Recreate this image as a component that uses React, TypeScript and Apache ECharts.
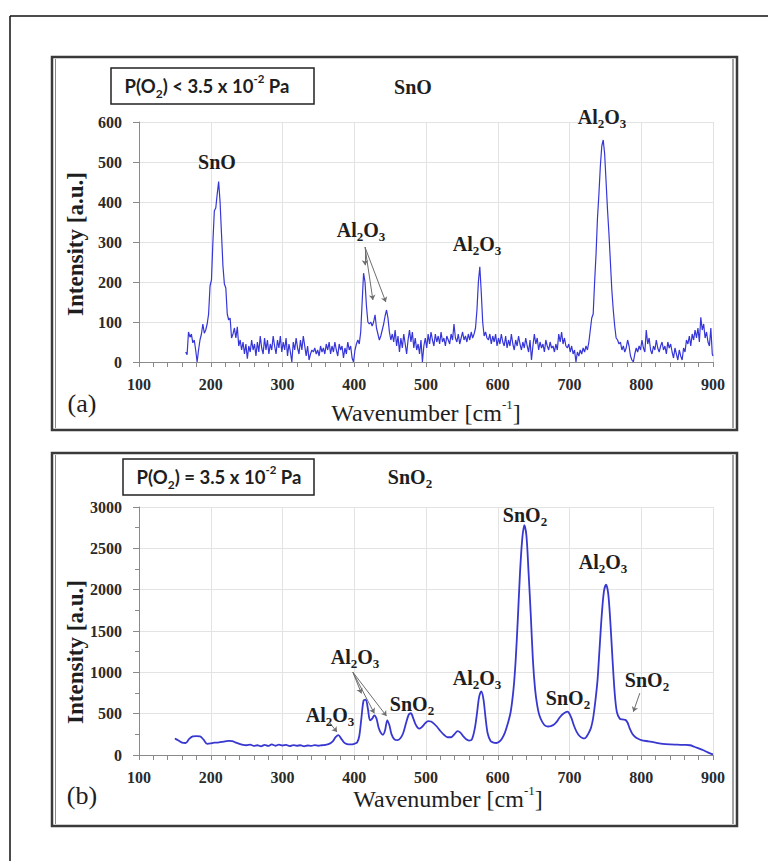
import React, { useEffect, useRef } from "react";
import * as echarts from "echarts";

// ---------- data ----------
const xTickValues = [100, 200, 300, 400, 500, 600, 700, 800, 900];

// Panel (a): SnO, P(O2) < 3.5e-2 Pa  [wavenumber cm-1, intensity a.u.]
const snoSpectrum: [number, number][] = [
  [165, 25], [167, 18], [169, 75], [171, 62], [173, 70], [175, 48], [177, 55], [179, 30], [181, 0], [183, 30],
  [185, 55], [187, 70], [189, 95], [191, 72], [193, 80], [195, 95], [197, 120], [199, 190], [201, 205], [203, 300],
  [205, 378], [207, 385], [209, 420], [211, 451], [213, 400], [215, 320], [217, 240], [219, 195], [221, 185], [223, 120],
  [225, 105], [227, 110], [229, 60], [231, 70], [233, 85], [235, 60], [237, 88], [239, 40], [241, 55], [243, 30],
  [245, 50], [247, 20], [249, 45], [251, 8], [253, 40], [255, 25], [257, 55], [259, 30], [261, 45], [263, 15],
  [265, 50], [267, 25], [269, 65], [271, 35], [273, 20], [275, 60], [277, 30], [279, 55], [281, 20], [283, 45],
  [285, 30], [287, 65], [289, 40], [291, 20], [293, 55], [295, 35], [297, 65], [299, 25], [301, 50], [303, 30],
  [305, 60], [307, 15], [309, 45], [311, 25], [313, 0], [315, 50], [317, 30], [319, 60], [321, 35], [323, 20],
  [325, 55], [327, 30], [329, 65], [331, 40], [333, 15], [335, 40], [337, 5], [339, 20], [341, 30], [343, 25],
  [345, 35], [347, 20], [349, 30], [351, 15], [353, 40], [355, 25], [357, 35], [359, 20], [361, 45], [363, 30],
  [365, 50], [367, 20], [369, 40], [371, 25], [373, 50], [375, 30], [377, 15], [379, 45], [381, 30], [383, 40],
  [385, 10], [387, 35], [389, 20], [391, 50], [393, 30], [395, 40], [397, 10], [399, 0], [401, 30], [403, 45],
  [405, 55], [407, 45], [409, 75], [411, 150], [413, 222], [415, 200], [417, 140], [419, 100], [421, 95], [423, 100],
  [425, 90], [427, 100], [429, 118], [431, 85], [433, 70], [435, 55], [437, 65], [439, 80], [441, 95], [443, 115],
  [445, 130], [447, 110], [449, 75], [451, 55], [453, 70], [455, 50], [457, 80], [459, 40], [461, 65], [463, 25],
  [465, 60], [467, 35], [469, 70], [471, 45], [473, 20], [475, 55], [477, 80], [479, 50], [481, 75], [483, 35],
  [485, 60], [487, 30], [489, 45], [491, 20], [493, 55], [495, 0], [497, 40], [499, 60], [501, 35], [503, 70],
  [505, 45], [507, 75], [509, 55], [511, 40], [513, 70], [515, 50], [517, 65], [519, 45], [521, 75], [523, 50],
  [525, 60], [527, 40], [529, 65], [531, 55], [533, 45], [535, 70], [537, 55], [539, 95], [541, 60], [543, 50],
  [545, 70], [547, 45], [549, 60], [551, 75], [553, 55], [555, 65], [557, 50], [559, 70], [561, 55], [563, 75],
  [565, 60], [567, 70], [569, 85], [571, 130], [573, 200], [575, 238], [577, 175], [579, 100], [581, 65], [583, 75],
  [585, 60], [587, 55], [589, 70], [591, 45], [593, 65], [595, 50], [597, 70], [599, 40], [601, 60], [603, 45],
  [605, 70], [607, 50], [609, 40], [611, 65], [613, 35], [615, 55], [617, 40], [619, 70], [621, 45], [623, 30],
  [625, 55], [627, 40], [629, 65], [631, 45], [633, 30], [635, 50], [637, 35], [639, 60], [641, 40], [643, 25],
  [645, 55], [647, 5], [649, 40], [651, 70], [653, 45], [655, 60], [657, 30], [659, 50], [661, 35], [663, 45],
  [665, 25], [667, 55], [669, 40], [671, 30], [673, 50], [675, 35], [677, 40], [679, 25], [681, 45], [683, 30],
  [685, 70], [687, 50], [689, 75], [691, 45], [693, 60], [695, 40], [697, 35], [699, 45], [701, 25], [703, 40],
  [705, 20], [707, 30], [709, 0], [711, 25], [713, 15], [715, 30], [717, 20], [719, 35], [721, 25], [723, 40],
  [725, 30], [727, 50], [729, 80], [731, 110], [733, 120], [735, 200], [737, 270], [739, 360], [741, 420], [743, 490],
  [745, 540], [747, 555], [749, 520], [751, 450], [753, 380], [755, 320], [757, 250], [759, 180], [761, 130], [763, 90],
  [765, 60], [767, 55], [769, 45], [771, 50], [773, 30], [775, 40], [777, 25], [779, 35], [781, 55], [783, 40],
  [785, 15], [787, 5], [789, 0], [791, 20], [793, 35], [795, 25], [797, 40], [799, 30], [801, 55], [803, 35],
  [805, 25], [807, 80], [809, 45], [811, 60], [813, 30], [815, 20], [817, 40], [819, 30], [821, 55], [823, 35],
  [825, 25], [827, 40], [829, 50], [831, 30], [833, 40], [835, 20], [837, 50], [839, 35], [841, 45], [843, 25],
  [845, 10], [847, 35], [849, 20], [851, 5], [853, 30], [855, 15], [857, 5], [859, 35], [861, 25], [863, 55],
  [865, 45], [867, 65], [869, 40], [871, 70], [873, 55], [875, 80], [877, 60], [879, 85], [881, 50], [883, 112],
  [885, 80], [887, 95], [889, 60], [891, 75], [893, 50], [895, 40], [897, 85], [899, 20], [900, 15],
];

// Panel (b): SnO2, P(O2) = 3.5e-2 Pa
const sno2Spectrum: [number, number][] = [
  [150, 200], [155, 175], [160, 150], [165, 145], [170, 195], [175, 225], [180, 228], [185, 225], [190, 185], [195, 135],
  [200, 140], [205, 150], [210, 150], [215, 158], [220, 165], [225, 172], [230, 168], [235, 150], [240, 135], [245, 122],
  [250, 118], [255, 125], [260, 110], [265, 118], [270, 105], [275, 122], [280, 110], [285, 128], [290, 112], [295, 125],
  [300, 115], [305, 122], [310, 108], [315, 120], [320, 112], [325, 118], [330, 105], [335, 115], [340, 110], [345, 120],
  [350, 112], [355, 118], [360, 122], [365, 135], [370, 165], [374, 215], [378, 240], [382, 195], [386, 150], [390, 132],
  [395, 128], [400, 135], [404, 150], [407, 230], [410, 450], [413, 660], [416, 670], [419, 560], [422, 420], [425, 440],
  [428, 480], [431, 440], [434, 330], [437, 270], [440, 245], [443, 300], [446, 420], [449, 360], [452, 250], [456, 190],
  [460, 180], [464, 200], [468, 260], [472, 380], [476, 490], [479, 505], [482, 450], [485, 380], [488, 335], [491, 320],
  [495, 345], [499, 385], [503, 410], [507, 405], [511, 380], [515, 345], [520, 290], [525, 245], [530, 215], [535, 215],
  [540, 255], [544, 290], [548, 270], [552, 225], [556, 190], [560, 175], [564, 190], [568, 320], [571, 500], [574, 700],
  [577, 770], [580, 680], [583, 450], [586, 260], [590, 170], [594, 150], [598, 145], [602, 160], [606, 200], [610, 270],
  [614, 380], [618, 520], [622, 800], [625, 1150], [628, 1650], [631, 2200], [634, 2600], [637, 2780], [640, 2650], [643, 2200],
  [646, 1700], [649, 1150], [652, 800], [655, 600], [658, 480], [662, 400], [666, 355], [670, 345], [674, 350], [678, 365],
  [682, 400], [686, 450], [690, 490], [694, 515], [697, 525], [700, 500], [703, 440], [706, 360], [710, 280], [714, 230],
  [718, 205], [721, 200], [724, 225], [727, 270], [730, 330], [733, 450], [736, 650], [739, 900], [742, 1300], [745, 1700],
  [748, 1980], [751, 2060], [754, 1950], [757, 1600], [760, 1150], [763, 750], [766, 520], [770, 440], [774, 430], [778, 425],
  [781, 390], [784, 320], [788, 250], [792, 215], [796, 195], [800, 180], [810, 165], [820, 150], [830, 135], [840, 128],
  [850, 125], [860, 122], [868, 118], [874, 100], [880, 80], [886, 60], [892, 35], [896, 20], [900, 8],
];

// annotation arrows in data coordinates: [from, to]
const snoArrows: [[number, number], [number, number]][] = [
  [[415, 287], [415, 242]],
  [[415, 287], [426, 155]],
  [[415, 287], [444, 150]],
];
const sno2Arrows: [[number, number], [number, number]][] = [
  [[366, 387], [376, 278]],
  [[398, 1003], [410, 745]],
  [[398, 1003], [428, 504]],
  [[398, 1003], [445, 471]],
  [[798, 749], [789, 523]],
];

// ---------- styles ----------
const SERIF = '"Liberation Serif", "Times New Roman", serif';
const SANS = 'Lato, "Open Sans", "Liberation Sans", sans-serif';
const AXIS = "#8a8a8a";
const GRID = "#e3e3e3";
const INK = "#1e1e1e";

const chemRich = {
  m: { fontFamily: SERIF, fontWeight: "bold", fontSize: 20, lineHeight: 26, fill: INK },
  s: { fontFamily: SERIF, fontWeight: "bold", fontSize: 13, lineHeight: 13, verticalAlign: "bottom", fill: INK },
};
const chem = (f: string) =>
  f.replace(/([A-Za-z]+)|(\d+)/g, (_m, a, d) => (a ? `{m|${a}}` : `{s|${d}}`));

const chemText = (f: string, x: number, y: number) => ({
  type: "text",
  x,
  y,
  silent: true,
  z: 10,
  style: { text: chem(f), rich: chemRich, textAlign: "center", textVerticalAlign: "middle" },
});

const boxRich = {
  t: { fontFamily: SANS, fontWeight: "bold", fontSize: 18.5, lineHeight: 27, fill: INK },
  sub: { fontFamily: SANS, fontWeight: "bold", fontSize: 12, lineHeight: 12, verticalAlign: "bottom", fill: INK },
  sup: { fontFamily: SANS, fontWeight: "bold", fontSize: 11.5, lineHeight: 11.5, verticalAlign: "top", fill: INK },
};
const wnRich = {
  w: { fontFamily: SERIF, fontSize: 24, lineHeight: 30, fill: INK },
  sup: { fontFamily: SERIF, fontSize: 13, lineHeight: 13, verticalAlign: "top", fill: INK },
};

const plainNumber = (v: number) => String(v);

const xAxisBase = (gridIndex: number) => ({
  type: "value",
  gridIndex,
  min: xTickValues[0],
  max: xTickValues[xTickValues.length - 1],
  interval: 100,
  axisLine: { show: true, onZero: false, lineStyle: { color: AXIS, width: 1 } },
  axisTick: { show: true, length: 5, lineStyle: { color: AXIS } },
  minorTick: { show: true, splitNumber: 5, length: 5, lineStyle: { color: AXIS } },
  splitLine: { show: true, lineStyle: { color: GRID, width: 1 } },
  axisLabel: { margin: 14, fontFamily: SERIF, fontWeight: "bold", fontSize: 16, color: "#2a2a2a", formatter: plainNumber },
});

const yAxisBase = (gridIndex: number, max: number, interval: number, minor: boolean) => ({
  type: "value",
  gridIndex,
  min: 0,
  max,
  interval,
  axisLine: { show: true, lineStyle: { color: AXIS, width: 1 } },
  axisTick: { show: true, length: 6, lineStyle: { color: AXIS } },
  minorTick: { show: minor, splitNumber: 2, length: 4, lineStyle: { color: AXIS } },
  splitLine: { show: true, lineStyle: { color: GRID, width: 1 } },
  axisLabel: { margin: 17, fontFamily: SERIF, fontWeight: "bold", fontSize: 16, color: "#2a2a2a", formatter: plainNumber },
});

const arrowMarkLine = (arrows: [[number, number], [number, number]][]) => ({
  silent: true,
  animation: false,
  symbol: ["none", "arrow"],
  symbolSize: 5,
  lineStyle: { color: "#6e6e6e", width: 1, type: "solid" },
  label: { show: false },
  emphasis: { disabled: true },
  data: arrows.map(([a, b]) => [{ coord: a }, { coord: b }]),
});

const frame = (x: number, y: number, w: number, h: number) => [
  {
    type: "rect",
    silent: true,
    shape: { x, y, width: w, height: h },
    style: { fill: "none", stroke: "#3a3a3a", lineWidth: 2.5 },
  },
  {
    type: "line",
    silent: true,
    shape: { x1: x + w - 4, y1: y + 2, x2: x + w - 4, y2: y + h - 2 },
    style: { stroke: "#666", lineWidth: 1.2 },
  },
  {
    type: "line",
    silent: true,
    shape: { x1: x + 3.5, y1: y + 2, x2: x + 3.5, y2: y + h - 2 },
    style: { stroke: "#888", lineWidth: 1 },
  },
];

const box = (x: number, y: number, w: number, h: number, text: string, tx: number) => [
  {
    type: "rect",
    silent: true,
    shape: { x, y, width: w, height: h },
    style: { fill: "#fff", stroke: "#222", lineWidth: 1.5 },
  },
  {
    type: "text",
    silent: true,
    x: tx,
    y: y + h / 2,
    style: { text, rich: boxRich, textAlign: "center", textVerticalAlign: "middle" },
  },
];

const plainText = (text: string, x: number, y: number, size: number, weight: string, rotation = 0) => ({
  type: "text",
  silent: true,
  x,
  y,
  rotation,
  style: {
    text,
    fontFamily: SERIF,
    fontSize: size,
    fontWeight: weight,
    fill: INK,
    textAlign: "center",
    textVerticalAlign: "middle",
  },
});

const option = {
  animation: false,
  backgroundColor: "#ffffff",
  grid: [
    { left: 139, top: 122, width: 574, height: 240 },
    { left: 139, top: 507, width: 574, height: 248 },
  ],
  xAxis: [xAxisBase(0), xAxisBase(1)],
  yAxis: [yAxisBase(0, 600, 100, false), yAxisBase(1, 3000, 500, true)],
  series: [
    {
      type: "line",
      xAxisIndex: 0,
      yAxisIndex: 0,
      data: snoSpectrum,
      symbol: "none",
      lineStyle: { color: "#3636d8", width: 1.2 },
      markLine: arrowMarkLine(snoArrows),
    },
    {
      type: "line",
      xAxisIndex: 1,
      yAxisIndex: 1,
      data: sno2Spectrum,
      symbol: "none",
      smooth: 0.3,
      lineStyle: { color: "#3838d0", width: 1.8 },
      markLine: arrowMarkLine(sno2Arrows),
    },
  ],
  graphic: [
    // page frame (top and left)
    { type: "line", silent: true, shape: { x1: 10, y1: 16, x2: 768, y2: 16 }, style: { stroke: "#111", lineWidth: 1.5 } },
    { type: "line", silent: true, shape: { x1: 10, y1: 16, x2: 10, y2: 861 }, style: { stroke: "#111", lineWidth: 1.5 } },
    ...frame(52, 57, 685, 373),
    ...frame(52, 453, 685, 373),
    ...box(111, 68, 203, 36, "{t|P(O}{sub|2}{t|) < 3.5 x 10}{sup|-2}{t| Pa}", 207),
    ...box(123, 459, 191, 36, "{t|P(O}{sub|2}{t|) = 3.5 x 10}{sup|-2}{t| Pa}", 219),
    chemText("SnO", 413, 87),
    chemText("SnO2", 410, 477),
    // axis titles and panel letters
    plainText("Intensity [a.u.]", 75, 244, 23, "bold", Math.PI / 2),
    plainText("Intensity [a.u.]", 75, 652, 23, "bold", Math.PI / 2),
    plainText("(a)", 82, 403, 26, "normal"),
    plainText("(b)", 82, 795, 26, "normal"),
    {
      type: "text", silent: true, x: 426, y: 413,
      style: { text: "{w|Wavenumber [cm}{sup|-1}{w|]}", rich: wnRich, textAlign: "center", textVerticalAlign: "middle" },
    },
    {
      type: "text", silent: true, x: 448, y: 799,
      style: { text: "{w|Wavenumber [cm}{sup|-1}{w|]}", rich: wnRich, textAlign: "center", textVerticalAlign: "middle" },
    },
    // peak labels panel (a)
    chemText("SnO", 217, 162),
    chemText("Al2O3", 361, 230),
    chemText("Al2O3", 477, 244),
    chemText("Al2O3", 602, 117),
    // peak labels panel (b)
    chemText("Al2O3", 330, 715),
    chemText("Al2O3", 355, 657),
    chemText("SnO2", 412, 704),
    chemText("Al2O3", 477, 678),
    chemText("SnO2", 525, 515),
    chemText("SnO2", 568, 698),
    chemText("Al2O3", 603, 562),
    chemText("SnO2", 647, 680),
  ],
};

export default function App() {
  const ref = useRef<HTMLDivElement>(null);
  useEffect(() => {
    if (!ref.current) return;
    const chart = echarts.init(ref.current, null, { renderer: "svg" });
    chart.setOption(option as any);
    return () => chart.dispose();
  }, []);
  return (
    <div
      ref={ref}
      style={{ position: "absolute", left: 0, top: 0, width: 768, height: 861, background: "#fff" }}
    />
  );
}
